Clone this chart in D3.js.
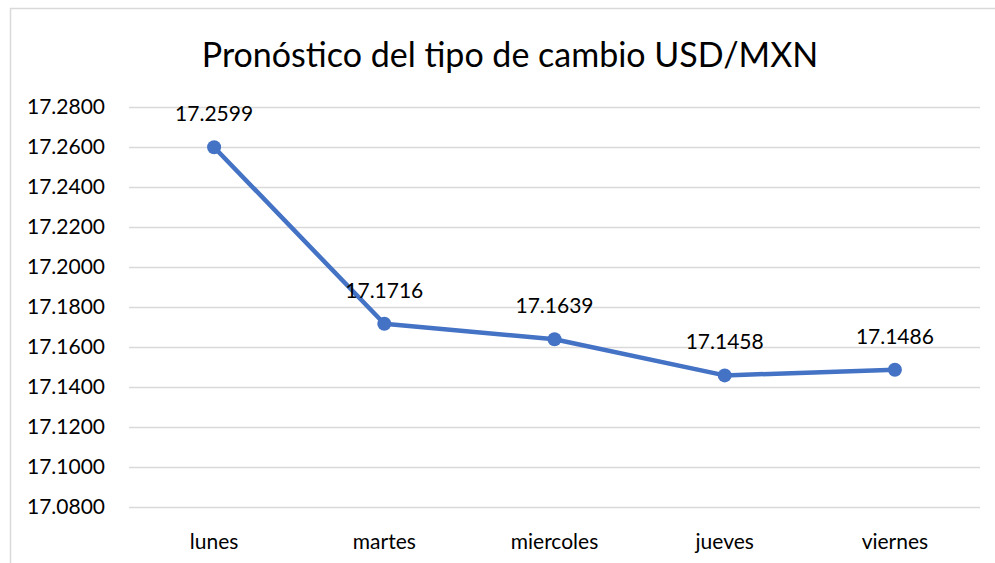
<!DOCTYPE html>
<meta charset="utf-8">
<style>
body { margin: 0; background: #fff; }
text { font-family: Lato, "Open Sans", sans-serif; fill: #000; }
.grid line { stroke: #d9d9d9; stroke-width: 1.3; }
.grid path { display: none; }
.axis path, .axis line { display: none; }
</style>
<svg width="995" height="563"></svg>
<script src="https://d3js.org/d3.v7.min.js"></script>
<script>

var categories = ["lunes", "martes", "miercoles", "jueves", "viernes"];
var values = [17.2599, 17.1716, 17.1639, 17.1458, 17.1486];
var yTicks = [17.08, 17.10, 17.12, 17.14, 17.16, 17.18, 17.20, 17.22, 17.24, 17.26, 17.28];

var margin = {top: 107, right: 15, bottom: 56, left: 129},
    width = 980 - margin.left,
    height = 507 - margin.top;

var svg = d3.select("svg");

// chart area border (left and top only visible)
svg.append("path")
    .attr("d", "M10.5,563 V8.5 H995")
    .attr("fill", "none")
    .attr("stroke", "#d9d9d9")
    .attr("stroke-width", 1.5);

svg.append("text")
    .attr("x", 510)
    .attr("y", 67)
    .attr("text-anchor", "middle")
    .style("font-size", "34px")
    .text("Pronóstico del tipo de cambio USD/MXN");

var g = svg.append("g")
    .attr("transform", "translate(" + margin.left + "," + margin.top + ")");

var x = d3.scaleBand().domain(categories).range([0, width]);
var y = d3.scaleLinear().domain([17.08, 17.28]).range([height, 0]);

g.append("g")
    .attr("class", "grid")
    .call(d3.axisLeft(y).tickValues(yTicks).tickSize(-width).tickFormat(""));

g.append("g")
    .attr("class", "axis")
    .call(d3.axisLeft(y).tickValues(yTicks).tickFormat(d3.format(".4f")).tickPadding(18))
    .selectAll("text")
    .style("font-size", "21px")
    .style("font-family", "Lato, 'Open Sans', sans-serif");

g.append("g")
    .attr("class", "axis")
    .attr("transform", "translate(0," + height + ")")
    .call(d3.axisBottom(x).tickPadding(21))
    .selectAll("text")
    .style("font-size", "21px")
    .style("font-family", "Lato, 'Open Sans', sans-serif");

var line = d3.line()
    .x(function(d, i) { return x(categories[i]) + x.bandwidth() / 2; })
    .y(function(d) { return y(d); });

g.append("path")
    .datum(values)
    .attr("fill", "none")
    .attr("stroke", "#4472c4")
    .attr("stroke-width", 4.5)
    .attr("stroke-linejoin", "round")
    .attr("d", line);

g.selectAll("circle")
    .data(values)
    .enter().append("circle")
    .attr("cx", function(d, i) { return x(categories[i]) + x.bandwidth() / 2; })
    .attr("cy", function(d) { return y(d); })
    .attr("r", 7)
    .attr("fill", "#4472c4");

g.selectAll(".label")
    .data(values)
    .enter().append("text")
    .attr("class", "label")
    .attr("x", function(d, i) { return x(categories[i]) + x.bandwidth() / 2; })
    .attr("y", function(d) { return y(d) - 26; })
    .attr("text-anchor", "middle")
    .style("font-size", "21px")
    .text(function(d) { return d3.format(".4f")(d); });

</script>
